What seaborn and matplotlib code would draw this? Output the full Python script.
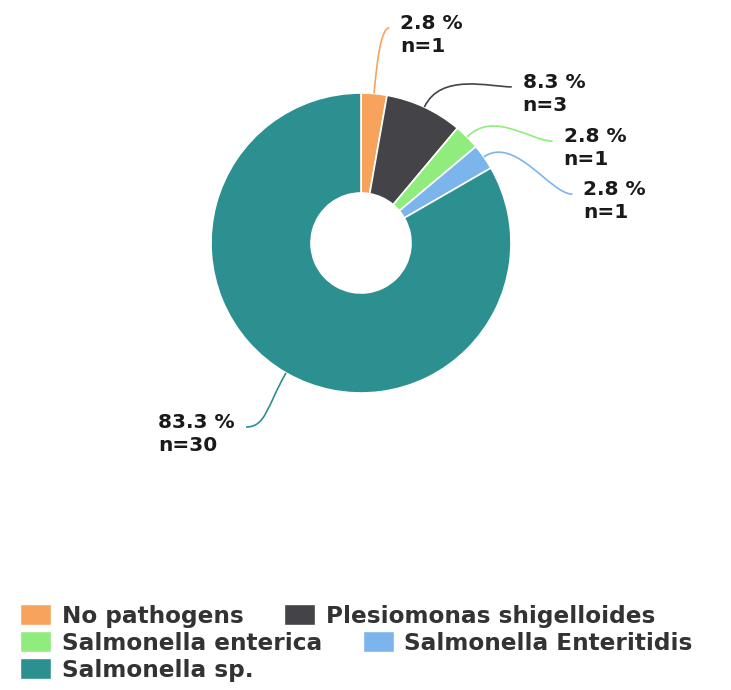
import numpy as np
import matplotlib
matplotlib.use("Agg")
import matplotlib.pyplot as plt
from matplotlib.patches import Patch, PathPatch
from matplotlib.path import Path
import seaborn as sns

sns.set_theme(style="white")
plt.rcParams['font.family'] = ['DejaVu Sans']

# =====================
# DATA
# =====================
categories = ['No pathogens', 'Plesiomonas shigelloides', 'Salmonella enterica',
              'Salmonella Enteritidis', 'Salmonella sp.']
counts = [1, 3, 1, 1, 30]
colors = sns.color_palette(['#f7a35c', '#434348', '#90ed7d', '#7cb5ec', '#2b908f'])

total = sum(counts)
labels = [f'{100 * c / total:.1f} %\nn={c}' for c in counts]

# layout (pixels)
W, H = 731, 690
cx, cy = 361, H - 243
R, hole = 150, 50
label_r = 217
label_ang = [7.5, 44, 62, 77, 212]  # clockwise from top, pushed apart

fig = plt.figure(figsize=(W / 100, H / 100), dpi=100)
ax = fig.add_axes([0, 0, 1, 1])

wedges, _ = ax.pie(counts, colors=colors, startangle=90, counterclock=False,
                   radius=R, center=(cx, cy),
                   wedgeprops=dict(width=R - hole, edgecolor='white', linewidth=1.2))

for w, lab, ang, col in zip(wedges, labels, label_ang, colors):
    mid = np.deg2rad((w.theta1 + w.theta2) / 2)
    u = np.array([np.cos(mid), np.sin(mid)])
    p0 = np.array([cx, cy]) + R * u
    a = np.deg2rad(ang)
    p3 = np.array([cx + label_r * np.sin(a), cy + label_r * np.cos(a)])
    side = 1 if p3[0] >= cx else -1
    p1 = p0 + 38 * u
    hx = min(22, abs(p3[0] - p0[0]) * 0.5)
    p2 = p3 - np.array([side * hx, 0])
    path = Path([p0, p1, p2, p3], [Path.MOVETO, Path.CURVE4, Path.CURVE4, Path.CURVE4])
    ax.add_patch(PathPatch(path, facecolor='none', edgecolor=col, lw=1.2))
    ax.text(p3[0] + side * 11, p3[1] - 7, lab, ha='left' if side > 0 else 'right',
            va='center', multialignment='left', fontsize=14.5, fontweight='bold',
            color='#1a1a1a', linespacing=1.3)

ax.set_xlim(0, W)
ax.set_ylim(0, H)
ax.axis('off')

# legend, one row per call so items flow like the original
handles = [Patch(facecolor=c, edgecolor='white', label=n) for c, n in zip(colors, categories)]
rows = [[0, 1], [2, 3], [4]]
row_y = [616, 643, 670]
fs = 16.7
for idx, y in zip(rows, row_y):
    fig.legend(handles=[handles[i] for i in idx], loc='center left',
               bbox_to_anchor=(20 / W, 1 - y / H), ncol=len(idx), frameon=False,
               prop=dict(size=fs, weight='bold'), labelcolor='#333333',
               handlelength=1.35, handleheight=1.0, handletextpad=0.45,
               columnspacing=1.75, borderpad=0, borderaxespad=0)

fig.savefig('out.png', dpi=100)
